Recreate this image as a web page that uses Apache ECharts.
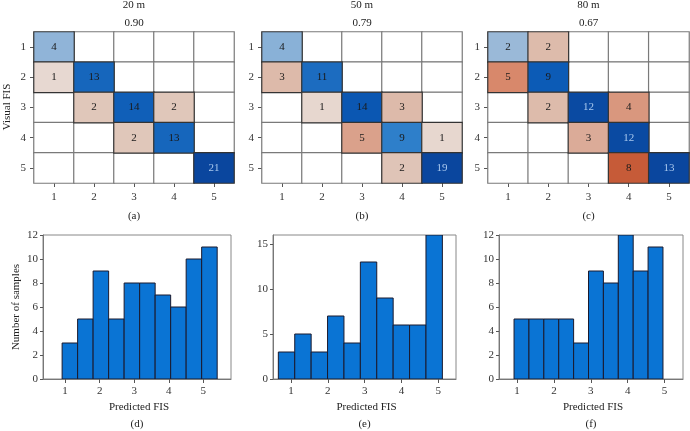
<!DOCTYPE html>
<html><head><meta charset="utf-8">
<script src="https://cdn.jsdelivr.net/npm/echarts@6/dist/echarts.min.js"></script>
<style>html,body{margin:0;padding:0;background:#fff}#c{width:690px;height:431px}</style>
</head><body><div id="c"></div>
<script>
// ---- data ----
const fisLabels = ['1', '2', '3', '4', '5'];
const panelTitles = ['20 m', '50 m', '80 m'];
const panelScores = ['0.90', '0.79', '0.67'];
const heatTags = ['(a)', '(b)', '(c)'];
const histTags = ['(d)', '(e)', '(f)'];

// rows: Visual FIS 1..5, columns: predicted FIS 1..5
const matrix20 = [
  [4, 0, 0, 0, 0],
  [1, 13, 0, 0, 0],
  [0, 2, 14, 2, 0],
  [0, 0, 2, 13, 0],
  [0, 0, 0, 0, 21]
];
const matrix50 = [
  [4, 0, 0, 0, 0],
  [3, 11, 0, 0, 0],
  [0, 1, 14, 3, 0],
  [0, 0, 5, 9, 1],
  [0, 0, 0, 2, 19]
];
const matrix80 = [
  [2, 2, 0, 0, 0],
  [5, 9, 0, 0, 0],
  [0, 2, 12, 4, 0],
  [0, 0, 3, 12, 0],
  [0, 0, 0, 8, 13]
];

const hist20Counts = [3, 5, 9, 5, 8, 8, 7, 6, 10, 11];
const hist50Counts = [3, 5, 3, 7, 4, 13, 9, 6, 6, 16];
const hist80Counts = [5, 5, 5, 5, 3, 9, 8, 12, 9, 11];
const hist20Edges = [0.913, 5.40];
const hist50Edges = [0.655, 5.11];
const hist80Edges = [0.918, 4.957];
const histXTicks = [1, 2, 3, 4, 5];
const hist20YTicks = [0, 2, 4, 6, 8, 10, 12];
const hist50YTicks = [0, 5, 10, 15];
const hist80YTicks = [0, 2, 4, 6, 8, 10, 12];

// ---- styling helpers ----
const FONT = 'Liberation Serif';
const blueStops = [[0, '#d6e2ee'], [0.15, '#9bbad8'], [0.2, '#8db3d8'], [0.47, '#2f80ca'], [0.58, '#1c6cc0'], [0.7, '#0b5ab5'], [0.9, '#0a4ba3'], [1, '#0a469e']];
const redStops = [[0, '#ece2dc'], [0.05, '#e7d8d0'], [0.1, '#dfc5b8'], [0.15, '#ddbcac'], [0.23, '#dbab98'], [0.28, '#d99c85'], [0.38, '#d8896c'], [0.62, '#c65a37'], [1, '#b0401f']];
function hex2rgb(h) { return [1, 3, 5].map(i => parseInt(h.substr(i, 2), 16)); }
function interp(stops, t) {
  t = Math.max(0, Math.min(1, t));
  for (let i = 1; i < stops.length; i++) {
    if (t <= stops[i][0]) {
      const [t0, c0] = stops[i - 1], [t1, c1] = stops[i];
      const f = (t - t0) / (t1 - t0);
      const a = hex2rgb(c0), b = hex2rgb(c1);
      return 'rgb(' + a.map((v, k) => Math.round(v + (b[k] - v) * f)).join(',') + ')';
    }
  }
  return stops[stops.length - 1][1];
}

const matrices = [matrix20, matrix50, matrix80];
const histCounts = [hist20Counts, hist50Counts, hist80Counts];
const histEdges = [hist20Edges, hist50Edges, hist80Edges];
const histYTicks = [hist20YTicks, hist50YTicks, hist80YTicks];
const histYMax = [12, 16, 12];
const histXRange = [[0.36, 5.8], [0.51, 5.48], [0.51, 5.5]];

const heatGrids = [
  { left: 34, top: 32, width: 200, height: 151 },
  { left: 262, top: 32, width: 200, height: 151 },
  { left: 488, top: 32, width: 201, height: 151 }
];
const histGrids = [
  { left: 43, top: 235, width: 188, height: 144 },
  { left: 273, top: 235, width: 183, height: 144 },
  { left: 499, top: 235, width: 184, height: 144 }
];

const grid = [], xAxis = [], yAxis = [], series = [], graphic = [];
const labelStyle = { color: '#333', fontFamily: FONT, fontSize: 11 };

matrices.forEach((m, p) => {
  grid.push(heatGrids[p]);
  xAxis.push({ gridIndex: p, type: 'category', data: fisLabels, axisLine: { show: false },
    axisTick: { show: true, alignWithLabel: true, length: 4, lineStyle: { color: '#555' } },
    axisLabel: Object.assign({ margin: 9 }, labelStyle), splitLine: { show: false } });
  yAxis.push({ gridIndex: p, type: 'category', data: fisLabels, inverse: true, axisLine: { show: false },
    axisTick: { show: true, alignWithLabel: true, length: 4, lineStyle: { color: '#555' } },
    axisLabel: Object.assign({ margin: 8 }, labelStyle), splitLine: { show: false } });
  let maxDiag = 0;
  m.forEach((row, r) => { maxDiag = Math.max(maxDiag, row[r]); });
  const empty = [], filled = [];
  m.forEach((row, r) => row.forEach((v, c) => {
    if (!v) {
      empty.push({ value: [c, r, v], itemStyle: { color: '#fff', borderColor: '#7a7a7a', borderWidth: 1.2 } });
    } else {
      const t = v / maxDiag;
      const col = r === c ? interp(blueStops, t) : interp(redStops, t);
      const txt = (r === c && t > 0.8) ? '#a8c8ee' : '#1a1a1a';
      filled.push({ value: [c, r, v], itemStyle: { color: col, borderColor: '#333', borderWidth: 1.2 },
        label: { color: txt } });
    }
  }));
  const base = { type: 'heatmap', xAxisIndex: p, yAxisIndex: p, animation: false,
    emphasis: { disabled: true } };
  series.push(Object.assign({}, base, { data: empty, label: { show: false } }));
  series.push(Object.assign({}, base, { data: filled,
    label: { show: true, fontFamily: FONT, fontSize: 11, formatter: d => d.value[2] } }));
  const cx = heatGrids[p].left + heatGrids[p].width / 2;
  graphic.push({ type: 'text', x: cx, y: 5, style: { text: panelTitles[p], font: '11px ' + FONT, fill: '#222', align: 'center', verticalAlign: 'middle' } });
  graphic.push({ type: 'text', x: cx, y: 23, style: { text: panelScores[p], font: '11px ' + FONT, fill: '#222', align: 'center', verticalAlign: 'middle' } });
  graphic.push({ type: 'text', x: cx, y: 216, style: { text: heatTags[p], font: '11px ' + FONT, fill: '#222', align: 'center', verticalAlign: 'middle' } });
});

function histRender(params, api) {
  const lo = api.value(0), hi = api.value(1), n = api.value(2);
  const p0 = api.coord([lo, n]), p1 = api.coord([hi, 0]);
  return { type: 'rect', shape: { x: p0[0], y: p0[1], width: p1[0] - p0[0], height: p1[1] - p0[1] },
    style: { fill: '#0a74d4', stroke: '#1a1a2e', lineWidth: 1 } };
}

histCounts.forEach((counts, p) => {
  const gi = 3 + p;
  grid.push(Object.assign({ show: true, borderColor: '#888', borderWidth: 1, backgroundColor: 'transparent' }, histGrids[p]));
  xAxis.push({ gridIndex: gi, type: 'value', min: histXRange[p][0], max: histXRange[p][1],
    axisLine: { show: true, lineStyle: { color: '#777' } },
    axisTick: { show: true, length: 4, lineStyle: { color: '#555' }, customValues: histXTicks },
    axisLabel: Object.assign({ margin: 7, customValues: histXTicks }, labelStyle), splitLine: { show: false } });
  yAxis.push({ gridIndex: gi, type: 'value', min: 0, max: histYMax[p],
    axisLine: { show: true, lineStyle: { color: '#777' } },
    axisTick: { show: true, length: 3, lineStyle: { color: '#555' }, customValues: histYTicks[p] },
    axisLabel: Object.assign({ margin: 5, customValues: histYTicks[p] }, labelStyle), splitLine: { show: false } });
  const [lo, hi] = histEdges[p];
  const w = (hi - lo) / counts.length;
  const data = counts.map((n, i) => [lo + i * w, lo + (i + 1) * w, n]);
  series.push({ type: 'custom', xAxisIndex: gi, yAxisIndex: gi, renderItem: histRender, data: data,
    encode: { x: [0, 1], y: 2 }, animation: false, clip: true });
  const cx = histGrids[p].left + histGrids[p].width / 2;
  graphic.push({ type: 'text', x: cx + 2, y: 407, style: { text: 'Predicted FIS', font: '11px ' + FONT, fill: '#222', align: 'center', verticalAlign: 'middle' } });
  graphic.push({ type: 'text', x: cx, y: 424, style: { text: histTags[p], font: '11px ' + FONT, fill: '#222', align: 'center', verticalAlign: 'middle' } });
});

graphic.push({ type: 'text', x: 7, y: 107, rotation: Math.PI / 2, style: { text: 'Visual FIS', font: '11px ' + FONT, fill: '#222', align: 'center', verticalAlign: 'middle' } });
graphic.push({ type: 'text', x: 16, y: 307, rotation: Math.PI / 2, style: { text: 'Number of samples', font: '11px ' + FONT, fill: '#222', align: 'center', verticalAlign: 'middle' } });

const chart = echarts.init(document.getElementById('c'), null, { renderer: 'canvas' });
chart.setOption({ animation: false, backgroundColor: '#fff', grid, xAxis, yAxis, series, graphic });
</script></body></html>
